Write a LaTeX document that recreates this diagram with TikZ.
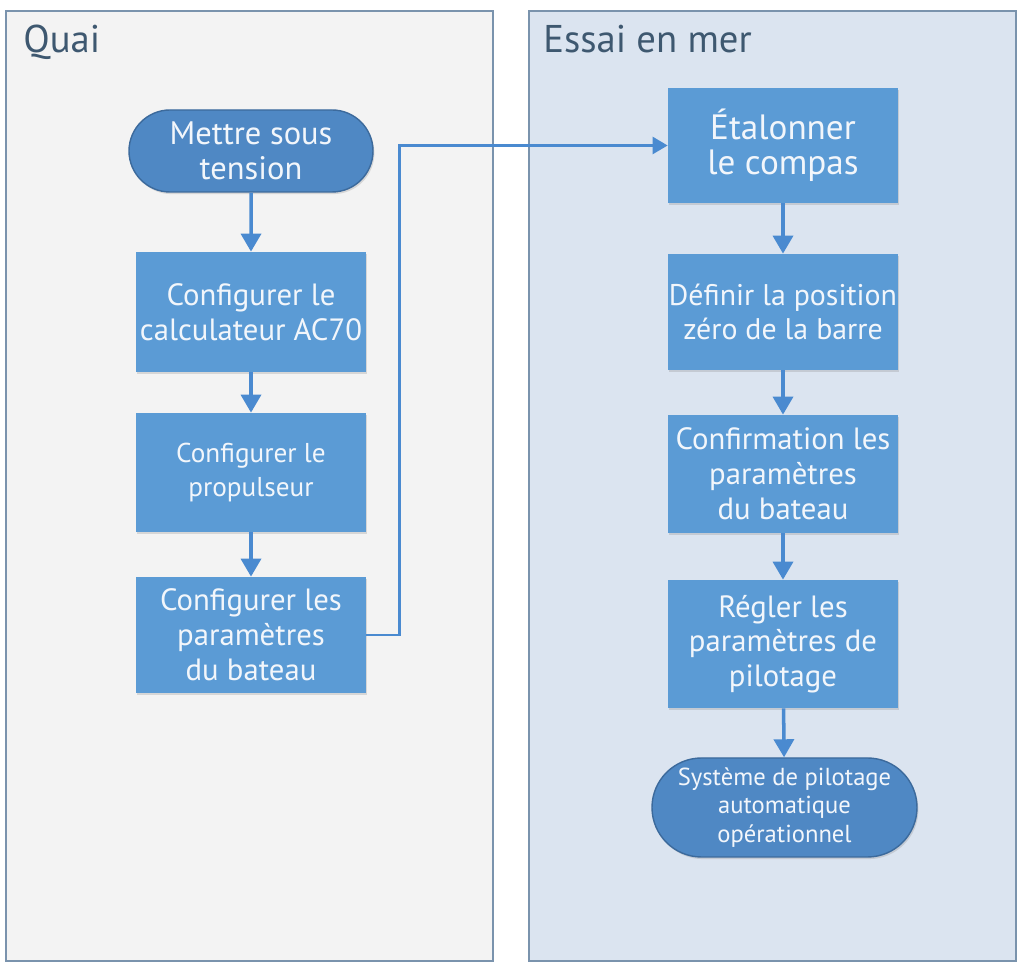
\documentclass[tikz,border=0pt]{standalone}
\usepackage{fontspec}
\setmainfont{PT Sans}
\usetikzlibrary{arrows.meta,shapes.misc,shadows}
\definecolor{boxblue}{HTML}{5B9BD5}
\definecolor{pillblue}{HTML}{4F88C4}
\definecolor{pillline}{HTML}{3C6A9C}
\definecolor{arrowblue}{HTML}{4A8AD0}
\definecolor{panelline}{HTML}{7A93AD}
\definecolor{quaifill}{HTML}{F3F3F3}
\definecolor{merfill}{HTML}{DBE4F0}
\definecolor{titletext}{HTML}{3E5870}
\definecolor{boxtext}{HTML}{F2F6FB}

\begin{document}
\begin{tikzpicture}[
    panel/.style={draw=panelline,line width=1pt},
    title/.style={anchor=base west,text=titletext,inner sep=0pt,font=\fontsize{22}{26}\selectfont},
    box/.style={rectangle,fill=boxblue,text=boxtext,align=center,inner sep=0pt,
        minimum width=4.6cm,font=\fontsize{17.5}{19.8}\selectfont,
        drop shadow={opacity=0.25,shadow xshift=0.8pt,shadow yshift=-1.2pt}},
    pill/.style={rounded rectangle,draw=pillline,line width=0.8pt,fill=pillblue,text=boxtext,
        align=center,inner sep=0pt,font=\fontsize{18.5}{19.8}\selectfont,
        drop shadow={opacity=0.25,shadow xshift=0.8pt,shadow yshift=-1.2pt}},
    flow/.style={draw=arrowblue,line width=2pt,-{Triangle[length=3.6mm,width=4mm]}}]
\useasboundingbox (0,0) rectangle (20.4,19.34);
% the two panels
\draw[panel,fill=quaifill] (0.12,0.12) rectangle (9.86,19.12);
\draw[panel,fill=merfill] (10.58,0.12) rectangle (20.32,19.12);
\node[title] (quai) at (0.46,18.28) {Quai};
\node[title] (mer) at (10.86,18.28) {Essai en mer};
% Quai
\node[pill,minimum width=4.88cm,minimum height=1.64cm] (on) at (5.02,16.32) {Mettre sous\\tension};
\node[box,minimum height=2.4cm] (calc) at (5.02,13.10) {Configurer le\\calculateur AC70};
\node[box,minimum height=2.38cm,font=\fontsize{15.5}{19.8}\selectfont] (prop) at (5.02,9.89) {Configurer le\\propulseur};
\node[box,minimum height=2.32cm] (param) at (5.02,6.64) {Configurer les\\paramètres\\du bateau};
% Essai en mer
\node[box,minimum height=2.3cm,font=\fontsize{20}{19.8}\selectfont] (etal) at (15.66,16.43) {Étalonner\\le compas};
\node[box,minimum height=2.32cm,font=\fontsize{17}{19.8}\selectfont] (zero) at (15.66,13.10) {Définir la position\\zéro de la barre};
\node[box,minimum height=2.36cm] (conf) at (15.66,9.86) {Confirmation les\\paramètres\\du bateau};
\node[box,minimum height=2.56cm] (regl) at (15.66,6.46) {Régler les\\paramètres de\\pilotage};
\node[pill,minimum width=5.3cm,minimum height=1.98cm,font=\fontsize{14}{16}\selectfont] (auto) at (15.69,3.19) {Système de pilotage\\automatique\\opérationnel};
% arrows
\draw[flow] (on) -- (calc);
\draw[flow] (calc) -- (prop);
\draw[flow] (prop) -- (param);
\draw[flow,line width=1.4pt,-{Triangle[length=3mm,width=3.4mm]}] (param.east) -- ++(0.66,0) |- (etal.west);
\draw[flow] (etal) -- (zero);
\draw[flow] (zero) -- (conf);
\draw[flow] (conf) -- (regl);
\draw[flow] (regl) -- (auto);
\end{tikzpicture}
\end{document}
